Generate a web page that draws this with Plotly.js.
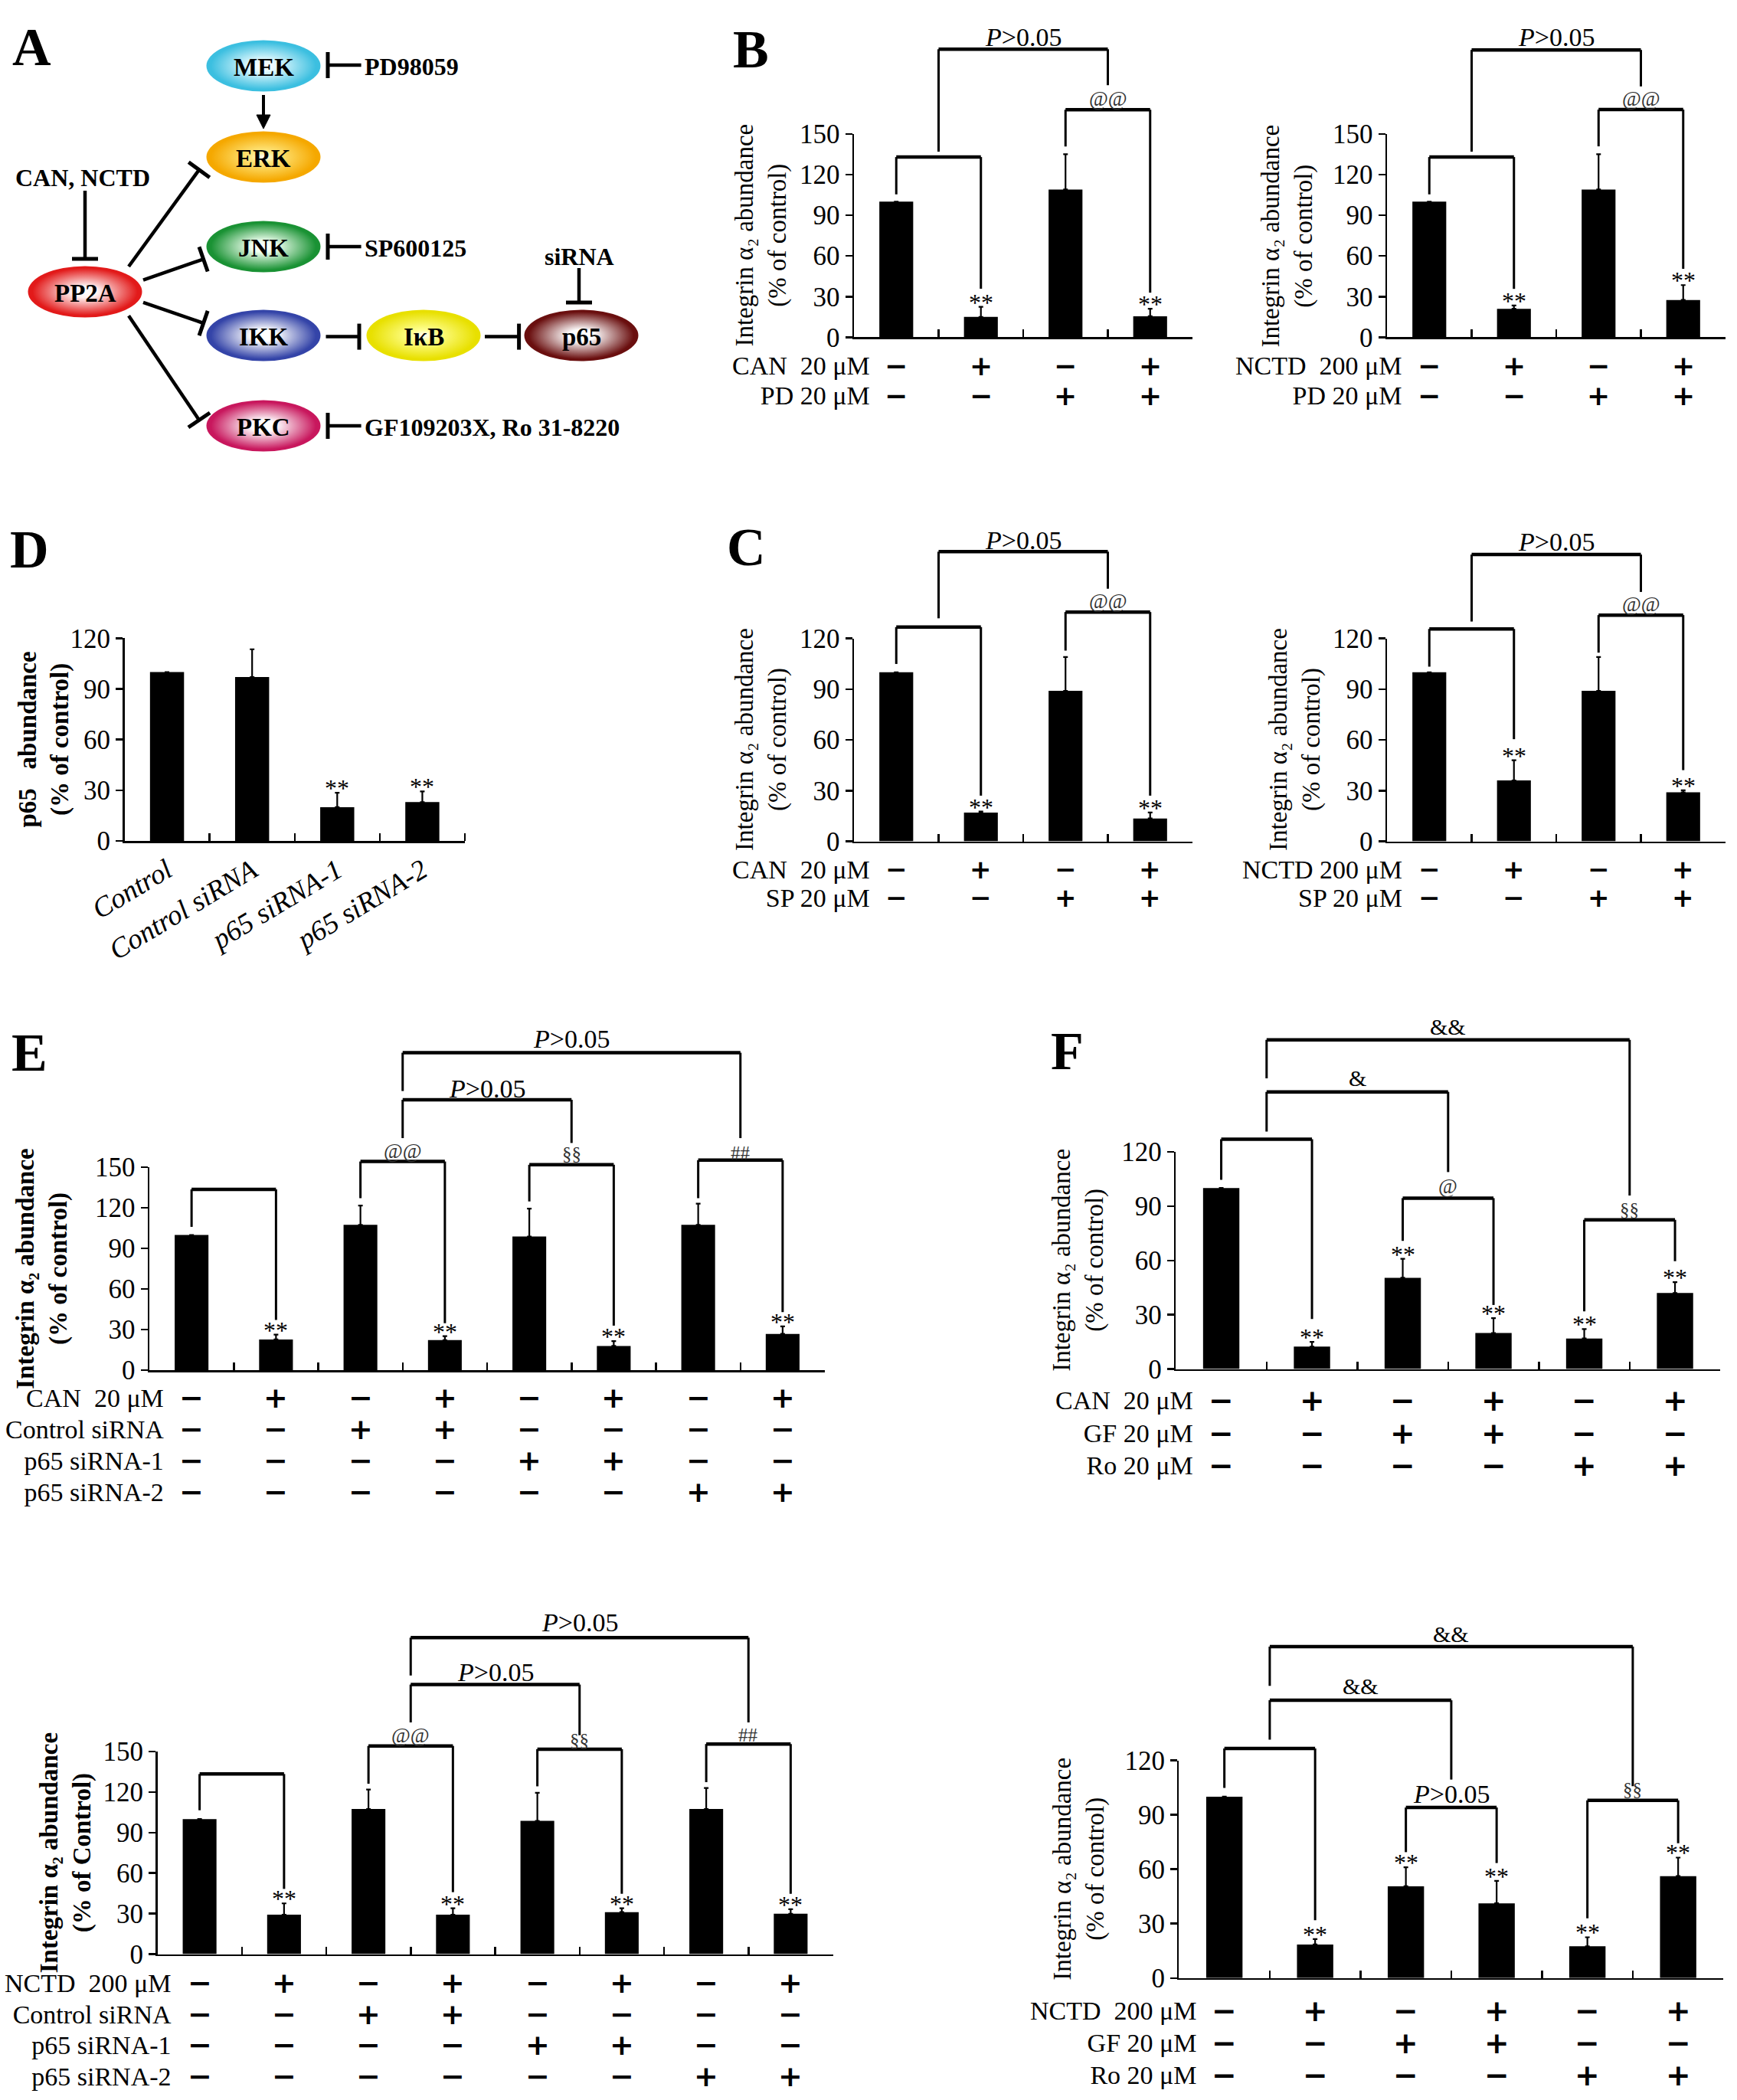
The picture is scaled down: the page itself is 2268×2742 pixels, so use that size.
<!DOCTYPE html>
<html><head><meta charset="utf-8">
<script src="https://cdn.plot.ly/plotly-3.0.1.min.js"></script>
<style>html,body{margin:0;padding:0;background:#fff}</style>
</head><body><div id="chart" style="width:2268px;height:2742px"></div>
<script>
// ================= DATA =================
// Panel B (left: CAN + PD98059, right: NCTD + PD98059)
const B1_values = [100, 15, 109, 15.5];
const B1_errors = [0, 7.5, 26, 5.5];
const B1_stars  = ['', '**', '', '**'];
const B1_rowLabels = ['CAN&nbsp; 20 μM', 'PD 20 μM'];
const B1_rows = [['−','+','−','+'], ['−','−','+','+']];

const B2_values = [100, 21, 109, 27.5];
const B2_errors = [0, 2.5, 26, 11];
const B2_stars  = ['', '**', '', '**'];
const B2_rowLabels = ['NCTD&nbsp; 200 μM', 'PD 20 μM'];
const B2_rows = [['−','+','−','+'], ['−','−','+','+']];

// Panel C (SP600125)
const C1_values = [100, 17, 89, 13.5];
const C1_errors = [0, 0.6, 20, 3.5];
const C1_stars  = ['', '**', '', '**'];
const C1_rowLabels = ['CAN&nbsp; 20 μM', 'SP 20 μM'];
const C1_rows = [['−','+','−','+'], ['−','−','+','+']];

const C2_values = [100, 36, 89, 29];
const C2_errors = [0, 12, 20, 1.2];
const C2_stars  = ['', '**', '', '**'];
const C2_rowLabels = ['NCTD 200 μM', 'SP 20 μM'];
const C2_rows = [['−','+','−','+'], ['−','−','+','+']];

// Panel D (p65 knockdown)
const D_categories = ['Control', 'Control siRNA', 'p65 siRNA-1', 'p65 siRNA-2'];
const D_values = [100, 97, 20, 23];
const D_errors = [0, 16.5, 8.5, 6.3];
const D_stars  = ['', '', '**', '**'];

// Panel E (siRNA + CAN / NCTD)
const E1_values = [100, 22.8, 107.5, 22.3, 98.9, 18, 107.5, 26.9];
const E1_errors = [0, 3.6, 14.2, 2.9, 20.6, 3.6, 15.6, 5.5];
const E1_stars  = ['', '**', '', '**', '', '**', '', '**'];
const E1_rowLabels = ['CAN&nbsp; 20 μM', 'Control siRNA', 'p65 siRNA-1', 'p65 siRNA-2'];
const E1_rows = [
  ['−','+','−','+','−','+','−','+'],
  ['−','−','+','+','−','−','−','−'],
  ['−','−','−','−','+','+','−','−'],
  ['−','−','−','−','−','−','+','+']];

const E2_values = [100, 29.2, 107.4, 29.2, 98.6, 31.1, 107.4, 29.9];
const E2_errors = [0, 8.4, 14.4, 4.8, 20.8, 2.9, 15.6, 3.4];
const E2_stars  = ['', '**', '', '**', '', '**', '', '**'];
const E2_rowLabels = ['NCTD&nbsp; 200 μM', 'Control siRNA', 'p65 siRNA-1', 'p65 siRNA-2'];
const E2_rows = E1_rows;

// Panel F (PKC inhibitors)
const F1_values = [100, 12.4, 50.4, 19.9, 16.9, 42];
const F1_errors = [0, 2.6, 10.5, 8.2, 5.2, 6];
const F1_stars  = ['', '**', '**', '**', '**', '**'];
const F1_rowLabels = ['CAN&nbsp; 20 μM', 'GF 20 μM', 'Ro 20 μM'];
const F1_rows = [
  ['−','+','−','+','−','+'],
  ['−','−','+','+','−','−'],
  ['−','−','−','−','+','+']];

const F2_values = [100, 18.5, 50.6, 41.2, 17.5, 56.2];
const F2_errors = [0, 3, 10.5, 12.4, 5, 10.2];
const F2_stars  = ['', '**', '**', '**', '**', '**'];
const F2_rowLabels = ['NCTD&nbsp; 200 μM', 'GF 20 μM', 'Ro 20 μM'];
const F2_rows = F1_rows;

// Significance brackets: [fromBar, toBar, topLevel, leg1End, leg2End, label, labelLevel] (axis units)
const B1_brackets = [[0,1,132.9,105.4,35.8,'',0],[2,3,167.8,140.7,32.9,'@@',176],[0.5,2.5,212.4,136.9,185.9,'P>0.05',221.2]];
const B2_brackets = [[0,1,132.9,105.4,35.7,'',0],[2,3,167.9,140.8,50.5,'@@',176],[0.5,2.5,211.9,136.9,185,'P>0.05',221.2]];
const C1_brackets = [[0,1,126.7,104.9,27,'',0],[2,3,135.6,112.8,27,'@@',141.9],[0.5,2.5,171.3,131.9,149.4,'P>0.05',178]];
const C2_brackets = [[0,1,125.6,103.3,60.4,'',0],[2,3,133.8,111.6,42.1,'@@',140.3],[0.5,2.5,169.6,130,147.5,'P>0.05',177.2]];
const E1_brackets = [[0,1,133.7,106,37.2,'',0],[2,3,154.3,127.2,34.8,'@@',162],[4,5,151.9,124.8,33,'§§',160.3],
  [6,7,155.3,127.2,43,'##',160.8],[2.5,4.5,199.9,171.6,168,'P>0.05',208.3],[2.5,6.5,234.7,206.4,171.6,'P>0.05',244.8]];
const E2_brackets = [[0,1,133.3,106.5,48.3,'',0],[2,3,154.1,126.1,45.9,'@@',162],[4,5,151.7,124.2,44.7,'§§',158.4],
  [6,7,155.5,127.3,44.7,'##',162],[2.5,4.5,199.5,171.5,162,'P>0.05',208.6],[2.5,6.5,234.2,206.2,171.5,'P>0.05',245.7]];
const F1_brackets = [[0,1,126.9,104.5,27.6,'',0],[2,3,94.4,70.8,35.4,'@',101],[4,5,82.4,31.9,59.6,'§§',88],
  [0.5,2.5,153.1,131.2,108.8,'&',160.6],[0.5,4.5,181.8,160.6,95.8,'&&',189]];
const F2_brackets = [[0,1,126.5,104.8,31.9,'',0],[2,3,94,69.4,63.4,'P>0.05',101.5],[4,5,97.9,32.9,74.3,'§§',103.8],
  [0.5,2.5,153.1,131.4,109.4,'&&',161],[0.5,4.5,182.7,161,105.8,'&&',189.6]];

// Panel A pathway diagram
const A_nodes  = ['MEK','ERK','JNK','IKK','PKC','PP2A','IκB','p65'];
const A_nodeX  = [344, 344, 344, 344, 344, 111, 553, 759];
const A_nodeY  = [86, 205, 322, 438, 556, 381, 438, 438];
const A_edge   = ['#3cbfe0','#f5a800','#1a9234','#3444a8','#c8175d','#e21a1a','#e8e000','#6a0f0f'];
const A_inner  = ['#e8fbff','#ffe880','#f0fff0','#ffffff','#ffffff','#fff4f4','#ffff90','#ffffff'];
const A_texts  = ['PD98059','SP600125','GF109203X, Ro 31-8220'];
const A_textY  = [85, 322, 556];

// ================= RENDER =================
const W = 2268, H = 2742;
const X = p => p / W, Y = p => 1 - p / H;
const SERIF = '"Liberation Serif", "Times New Roman", "DejaVu Serif", serif';
const SANS = '"DejaVu Sans", sans-serif';
const LINE_SPACING = 1.3;  // plotly multi-line spacing (em)
const traces = [], shapes = [], annotations = [], images = [];
const layout = {width: W, height: H, margin: {l:0, r:0, t:0, b:0, pad:0}, paper_bgcolor: '#fff',
  plot_bgcolor: 'rgba(0,0,0,0)', showlegend: false, font: {family: SERIF, color: '#000'}};

function labelHTML(s) { return s === 'P>0.05' ? '<i>P</i>&gt;0.05' : s.replace(/&/g, '&amp;'); }
function labelFont(s) {
  if (s === 'P>0.05') return {family: SERIF, size: 34, color: '#000'};
  if (s[0] === '&') return {family: SERIF, size: 30, color: '#000'};
  if (s[0] === '@') return {family: SERIF, size: 27, color: '#333'};
  return {family: SERIF, size: 25, color: '#333'};
}

function panel(id, c) {
  const sx = id === 1 ? '' : String(id);
  const xr = 'x' + sx, yr = 'y' + sx, yd = yr + ' domain';
  const n = c.values.length;
  const xs = c.values.map((_, i) => i);
  traces.push({type: 'bar', x: xs, y: c.values, width: 0.4, xaxis: xr, yaxis: yr,
    marker: {color: '#000', line: {width: 0}}, hoverinfo: 'skip',
    error_y: {type: 'data', symmetric: false, array: c.errors, arrayminus: c.errors.map(() => 0),
      color: '#000', thickness: 2.2, width: 3}});
  const dividers = xs.map(i => i + 0.5);
  const xa = {domain: [X(c.x[0]), X(c.x[1])], range: [-0.5, n - 0.5], anchor: yr, showline: true,
    linecolor: '#000', linewidth: 2.5, showgrid: false, zeroline: false, fixedrange: true};
  if (c.catLabels) {
    Object.assign(xa, {tickmode: 'array', tickvals: xs, ticktext: c.catLabels, ticks: '', tickangle: -31,
      tickfont: {family: SERIF, size: 37, style: 'italic', color: '#000'},
      minor: {tickmode: 'array', tickvals: dividers, ticks: 'inside', ticklen: 10, tickwidth: 2.5, tickcolor: '#000'}});
  } else {
    Object.assign(xa, {tickmode: 'array', tickvals: dividers, ticks: 'inside', ticklen: 10, tickwidth: 2.5,
      tickcolor: '#000', showticklabels: false});
  }
  layout['xaxis' + sx] = xa;
  layout['yaxis' + sx] = {domain: [Y(c.y[1]), Y(c.y[0])], range: [0, c.ymax], anchor: xr, showline: true,
    linecolor: '#000', linewidth: 2.5, ticks: 'outside', ticklen: 9, tickwidth: 2.5, tickcolor: '#000',
    tick0: 0, dtick: c.dtick, tickfont: {family: SERIF, size: 35, color: '#000'},
    showgrid: false, zeroline: false, fixedrange: true};
  const f = v => v / c.ymax;
  (c.brackets || []).forEach(b => {
    const [x1, x2, top, l1, l2, lab, ly] = b;
    shapes.push({type: 'line', xref: xr, yref: yd, x0: x1, x1: x1, y0: f(l1), y1: f(top), line: {color: '#000', width: 3}});
    shapes.push({type: 'line', xref: xr, yref: yd, x0: x2, x1: x2, y0: f(l2), y1: f(top), line: {color: '#000', width: 3}});
    shapes.push({type: 'line', xref: xr, yref: yd, x0: x1, x1: x2, y0: f(top), y1: f(top), line: {color: '#000', width: 4.5}});
    if (lab) annotations.push({xref: xr, yref: yd, x: (x1 + x2) / 2, y: f(ly), text: labelHTML(lab),
      font: labelFont(lab), showarrow: false, xanchor: 'center', yanchor: 'middle'});
  });
  c.stars.forEach((s, i) => {
    if (!s) return;
    annotations.push({xref: xr, yref: yd, x: i, y: f(c.values[i] + c.errors[i]), text: s, showarrow: false,
      xanchor: 'center', yanchor: 'middle', yshift: 6, font: {family: SERIF, size: 32, color: '#000'}});
  });
  if (c.rows) {
    // treatment table: one multi-line text per column; line pitch matches the row spacing
    const nr = c.rows.length;
    const pitch = (c.rowY[nr - 1] - c.rowY[0]) / (nr - 1);
    const base = pitch / LINE_SPACING;
    const signSize = Math.min(40, Math.floor(pitch / 1.07));
    const cy = (c.rowY[0] + c.rowY[nr - 1]) / 2;
    annotations.push({xref: 'paper', yref: 'paper', x: X(c.labelRight), y: Y(cy), xanchor: 'right', yanchor: 'middle',
      align: 'right', showarrow: false, font: {family: SERIF, size: base, color: '#000'},
      text: c.rowLabels.map(l => '<span style="font-size:34px">' + l + '</span>').join('<br>')});
    xs.forEach(i => annotations.push({xref: xr, yref: 'paper', x: i, y: Y(cy), xanchor: 'center', yanchor: 'middle',
      align: 'center', showarrow: false, font: {family: SANS, size: base, weight: 'bold', color: '#000'},
      text: c.rows.map(r => '<span style="font-size:' + signSize + 'px">' + r[i] + '</span>').join('<br>')}));
  }
  annotations.push({xref: 'paper', yref: 'paper', x: X(c.title.cx), y: Y(c.title.cy), textangle: -90,
    text: c.title.text, showarrow: false, xanchor: 'center', yanchor: 'middle',
    font: {family: SERIF, size: 33, color: '#000', weight: c.title.bold ? 'bold' : 'normal'}});
}

const TITLE = 'Integrin α₂ abundance<br>(% of control)';
panel(1, {x: [1115, 1557], y: [174.8, 440.4], ymax: 150, dtick: 30, values: B1_values, errors: B1_errors,
  stars: B1_stars, rows: B1_rows, rowLabels: B1_rowLabels, rowY: [477, 516], labelRight: 1138,
  brackets: B1_brackets, title: {text: TITLE, cx: 994, cy: 307.6}});
panel(2, {x: [1811, 2253], y: [174.8, 440.4], ymax: 150, dtick: 30, values: B2_values, errors: B2_errors,
  stars: B2_stars, rows: B2_rows, rowLabels: B2_rowLabels, rowY: [477, 516], labelRight: 1833,
  brackets: B2_brackets, title: {text: TITLE, cx: 1681, cy: 307.6}});
panel(3, {x: [1115, 1557], y: [833.6, 1098.5], ymax: 120, dtick: 30, values: C1_values, errors: C1_errors,
  stars: C1_stars, rows: C1_rows, rowLabels: C1_rowLabels, rowY: [1135, 1172], labelRight: 1138,
  brackets: C1_brackets, title: {text: TITLE, cx: 994, cy: 966}});
panel(4, {x: [1811, 2253], y: [833.6, 1098.5], ymax: 120, dtick: 30, values: C2_values, errors: C2_errors,
  stars: C2_stars, rows: C2_rows, rowLabels: C2_rowLabels, rowY: [1135, 1172], labelRight: 1833,
  brackets: C2_brackets, title: {text: TITLE, cx: 1691, cy: 966}});
panel(5, {x: [162.5, 607], y: [833.4, 1098], ymax: 120, dtick: 30, values: D_values, errors: D_errors,
  stars: D_stars, catLabels: D_categories,
  title: {text: 'p65&nbsp;&nbsp; abundance<br>(% of control)', cx: 57.5, cy: 966, bold: true}});
panel(6, {x: [195, 1077], y: [1524.2, 1789.2], ymax: 150, dtick: 30, values: E1_values, errors: E1_errors,
  stars: E1_stars, rows: E1_rows, rowLabels: E1_rowLabels, rowY: [1825, 1866, 1907, 1948], labelRight: 215.5,
  brackets: E1_brackets, title: {text: TITLE, cx: 55, cy: 1656.7, bold: true}});
panel(7, {x: [205.5, 1087.5], y: [2286.9, 2551.6], ymax: 150, dtick: 30, values: E2_values, errors: E2_errors,
  stars: E2_stars, rows: E2_rows, rowLabels: E2_rowLabels, rowY: [2589, 2629, 2669, 2711], labelRight: 226,
  brackets: E2_brackets, title: {text: 'Integrin α₂ abundance<br>(% of Control)', cx: 86, cy: 2419.3, bold: true}});
panel(8, {x: [1535.3, 2246.3], y: [1503.9, 1787.6], ymax: 120, dtick: 30, values: F1_values, errors: F1_errors,
  stars: F1_stars, rows: F1_rows, rowLabels: F1_rowLabels, rowY: [1828, 1870, 1913], labelRight: 1560,
  brackets: F1_brackets, title: {text: TITLE, cx: 1408, cy: 1645.8}});
panel(9, {x: [1539.4, 2250.4], y: [2298.5, 2582.8], ymax: 120, dtick: 30, values: F2_values, errors: F2_errors,
  stars: F2_stars, rows: F2_rows, rowLabels: F2_rowLabels, rowY: [2625, 2666, 2709], labelRight: 1565,
  brackets: F2_brackets, title: {text: TITLE, cx: 1409, cy: 2440.7}});

// Panel letters
[['A', 41, 62], ['B', 980, 64], ['C', 974, 714], ['D', 38, 717], ['E', 38, 1374], ['F', 1393, 1372]].forEach(([t, x, y]) =>
  annotations.push({xref: 'paper', yref: 'paper', x: X(x), y: Y(y), text: t, showarrow: false,
    xanchor: 'center', yanchor: 'middle', font: {family: SERIF, size: 70, weight: 'bold', color: '#000'}}));

// ---- Panel A diagram ----
function ellipseURI(edge, inner) {
  const s = '<svg xmlns="http://www.w3.org/2000/svg" width="300" height="140" viewBox="0 0 300 140">' +
    '<defs><radialGradient id="g" cx="50%" cy="50%" r="50%">' +
    '<stop offset="0" stop-color="#ffffff"/><stop offset="0.22" stop-color="' + inner + '"/>' +
    '<stop offset="0.92" stop-color="' + edge + '"/><stop offset="1" stop-color="' + edge + '"/></radialGradient></defs>' +
    '<ellipse cx="150" cy="70" rx="149" ry="69" fill="url(#g)"/></svg>';
  return 'data:image/svg+xml;charset=utf-8,' + encodeURIComponent(s);
}
const RX = 75, RY = 34;
A_nodes.forEach((name, i) => {
  images.push({source: ellipseURI(A_edge[i], A_inner[i]), xref: 'paper', yref: 'paper',
    x: X(A_nodeX[i] - RX), y: Y(A_nodeY[i] - RY), sizex: 2 * RX / W, sizey: 2 * RY / H,
    xanchor: 'left', yanchor: 'top', sizing: 'stretch', layer: 'below'});
  annotations.push({xref: 'paper', yref: 'paper', x: X(A_nodeX[i]), y: Y(A_nodeY[i] + 2), text: name,
    xanchor: 'center', yanchor: 'middle', showarrow: false,
    font: {family: SERIF, size: 33, weight: 'bold', color: '#000'}});
});
A_texts.forEach((t, i) => annotations.push({xref: 'paper', yref: 'paper', x: X(474), y: Y(A_textY[i] + 2),
  xanchor: 'left', yanchor: 'middle', text: t, showarrow: false,
  font: {family: SERIF, size: 32, weight: 'bold', color: '#000'}}));
annotations.push({xref: 'paper', yref: 'paper', x: X(108), y: Y(232), text: 'CAN, NCTD', showarrow: false,
  xanchor: 'center', yanchor: 'middle', font: {family: SERIF, size: 32, weight: 'bold', color: '#000'}});
annotations.push({xref: 'paper', yref: 'paper', x: X(756), y: Y(335), text: 'siRNA', showarrow: false,
  xanchor: 'center', yanchor: 'middle', font: {family: SERIF, size: 32, weight: 'bold', color: '#000'}});
// MEK -> ERK activation arrow: shaft + filled head
shapes.push({type: 'line', xref: 'paper', yref: 'paper', x0: X(344), y0: Y(124), x1: X(344), y1: Y(154),
  line: {color: '#000', width: 4}});
shapes.push({type: 'path', xref: 'paper', yref: 'paper', fillcolor: '#000', line: {color: '#000', width: 1},
  path: 'M' + X(344) + ',' + Y(168) + ' L' + X(335) + ',' + Y(150) + ' L' + X(353) + ',' + Y(150) + ' Z'});
// inhibition links (from, to) in pixel space; a perpendicular bar is drawn at the "to" end
const A_links = [[111,249,111,338],[756,350,756,395],[471.6,85,428,85],[471.6,322,428,322],[471.6,556,428,556],
  [425.5,439.6,469,439.6],[633,439.6,677.6,439.6],[168,348,260,221.7],[187,365.7,265.6,338.4],
  [187,394.8,265.6,422],[168,412.3,260,548.5]];
A_links.forEach(([x0, y0, x1, y1]) => {
  shapes.push({type: 'line', xref: 'paper', yref: 'paper', x0: X(x0), y0: Y(y0), x1: X(x1), y1: Y(y1),
    line: {color: '#000', width: 4.5}});
  const L = Math.hypot(x1 - x0, y1 - y0), px = -(y1 - y0) / L, py = (x1 - x0) / L, h = 17;
  shapes.push({type: 'line', xref: 'paper', yref: 'paper', x0: X(x1 + px * h), y0: Y(y1 + py * h),
    x1: X(x1 - px * h), y1: Y(y1 - py * h), line: {color: '#000', width: 5}});
});

layout.shapes = shapes; layout.annotations = annotations; layout.images = images;
Plotly.newPlot('chart', traces, layout, {staticPlot: true, displayModeBar: false});
</script></body></html>
